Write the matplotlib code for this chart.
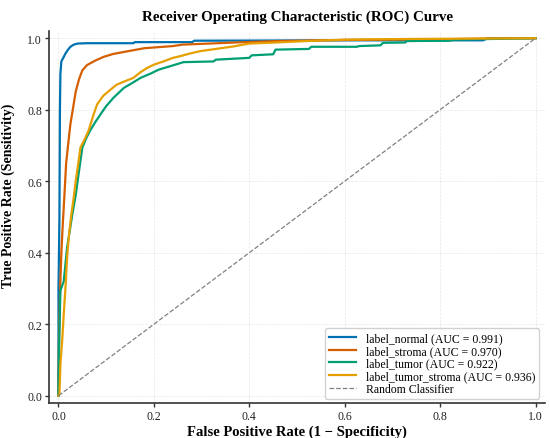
import matplotlib
matplotlib.use("Agg")
import matplotlib.pyplot as plt

plt.rcParams['font.family'] = ['Liberation Serif', 'DejaVu Serif']

labels = ["label_normal", "label_stroma", "label_tumor", "label_tumor_stroma"]
aucs = [0.991, 0.970, 0.922, 0.936]
colors = ["#0072B2", "#D55E00", "#009E73", "#E69F00"]

fpr_normal = [0, 0, 0.002, 0.003, 0.004, 0.006, 0.010, 0.015, 0.020, 0.025, 0.032, 0.040,
              0.06, 0.10, 0.157, 0.16, 0.28, 0.285, 0.60, 0.89, 0.90, 1.0]
tpr_normal = [0, 0.30, 0.50, 0.80, 0.90, 0.935, 0.945, 0.958, 0.968, 0.976, 0.982, 0.985,
              0.986, 0.986, 0.986, 0.989, 0.989, 0.993, 0.994, 0.994, 1.0, 1.0]

fpr_stroma = [0, 0.001, 0.003, 0.006, 0.009, 0.012, 0.016, 0.020, 0.025, 0.030, 0.036, 0.043,
              0.050, 0.060, 0.078, 0.095, 0.115, 0.147, 0.18, 0.24, 0.26, 0.37, 0.46, 0.60,
              0.80, 0.95, 1.0]
tpr_stroma = [0, 0.15, 0.28, 0.40, 0.48, 0.55, 0.65, 0.70, 0.76, 0.80, 0.85, 0.885,
              0.91, 0.925, 0.938, 0.948, 0.956, 0.964, 0.972, 0.978, 0.982, 0.988, 0.992, 0.995,
              0.997, 1.0, 1.0]

fpr_tumor = [0, 0, 0.002, 0.004, 0.011, 0.018, 0.029, 0.036, 0.042, 0.05, 0.058, 0.066,
             0.077, 0.088, 0.10, 0.115, 0.137, 0.155, 0.172, 0.193, 0.21, 0.235, 0.262,
             0.325, 0.33, 0.40, 0.405, 0.45, 0.455, 0.525, 0.53, 0.626, 0.63, 0.675, 0.68,
             0.727, 0.73, 0.82, 0.83, 1.0]
tpr_tumor = [0, 0.04, 0.18, 0.294, 0.32, 0.414, 0.507, 0.56, 0.619, 0.694, 0.72, 0.741,
             0.765, 0.787, 0.81, 0.833, 0.861, 0.875, 0.889, 0.901, 0.912, 0.922, 0.933,
             0.935, 0.940, 0.945, 0.952, 0.955, 0.968, 0.970, 0.976, 0.976, 0.978, 0.980,
             0.987, 0.988, 0.992, 0.993, 0.996, 1.0]

fpr_ts = [0, 0.002, 0.004, 0.008, 0.011, 0.015, 0.018, 0.022, 0.027, 0.032, 0.036, 0.041,
          0.046, 0.054, 0.063, 0.072, 0.081, 0.094, 0.108, 0.122, 0.14, 0.157, 0.172, 0.186,
          0.20, 0.22, 0.24, 0.256, 0.275, 0.298, 0.33, 0.367, 0.40, 0.455, 0.52, 0.60,
          0.75, 0.90, 1.0]
tpr_ts = [0, 0.004, 0.088, 0.16, 0.228, 0.31, 0.386, 0.45, 0.507, 0.555, 0.60, 0.645,
          0.694, 0.715, 0.741, 0.78, 0.815, 0.839, 0.855, 0.870, 0.88, 0.889, 0.905, 0.917,
          0.926, 0.935, 0.945, 0.95, 0.957, 0.964, 0.970, 0.977, 0.985, 0.988, 0.992, 0.996,
          0.998, 0.999, 1.0]

fprs = [fpr_normal, fpr_stroma, fpr_tumor, fpr_ts]
tprs = [tpr_normal, tpr_stroma, tpr_tumor, tpr_ts]

fig = plt.figure(figsize=(5.5, 4.39), dpi=100)
ax = fig.add_axes([0.089, 0.080, 0.902, 0.847])

for f, t, lab, a, c in zip(fprs, tprs, labels, aucs, colors):
    ax.plot(f, t, color=c, lw=1.6, label=f"{lab} (AUC = {a:.3f})")
ax.plot([0, 1], [0, 1], color="gray", ls="--", lw=0.9, label="Random Classifier")

ax.set_xlim(-0.02, 1.02)
ax.set_ylim(-0.02, 1.02)
ax.set_xticks([0, 0.2, 0.4, 0.6, 0.8, 1.0])
ax.set_yticks([0, 0.2, 0.4, 0.6, 0.8, 1.0])
ax.tick_params(labelsize=8.5, colors="#333333", labelcolor="#222222", width=1, length=3, pad=2)
ax.grid(True, ls="--", lw=0.5, alpha=0.3)
for s in ["top", "right"]:
    ax.spines[s].set_visible(False)
for s in ["left", "bottom"]:
    ax.spines[s].set_linewidth(1.2)
    ax.spines[s].set_color("#333333")

ax.set_xlabel("False Positive Rate (1 \u2212 Specificity)", fontsize=10.5, fontweight="bold", labelpad=2)
ax.set_ylabel("True Positive Rate (Sensitivity)", fontsize=10, fontweight="bold", labelpad=3)
ax.yaxis.set_label_coords(-0.068, 0.56)
ax.set_title("Receiver Operating Characteristic (ROC) Curve", fontsize=10.8, fontweight="bold", pad=8)
ax.legend(loc="lower right", fontsize=8.5, framealpha=0.9, edgecolor="#cccccc",
          labelspacing=0.05, handlelength=2.3, borderpad=0.35, borderaxespad=0.5,
          bbox_to_anchor=(1.0, -0.005))

fig.savefig("out.png", dpi=100)
